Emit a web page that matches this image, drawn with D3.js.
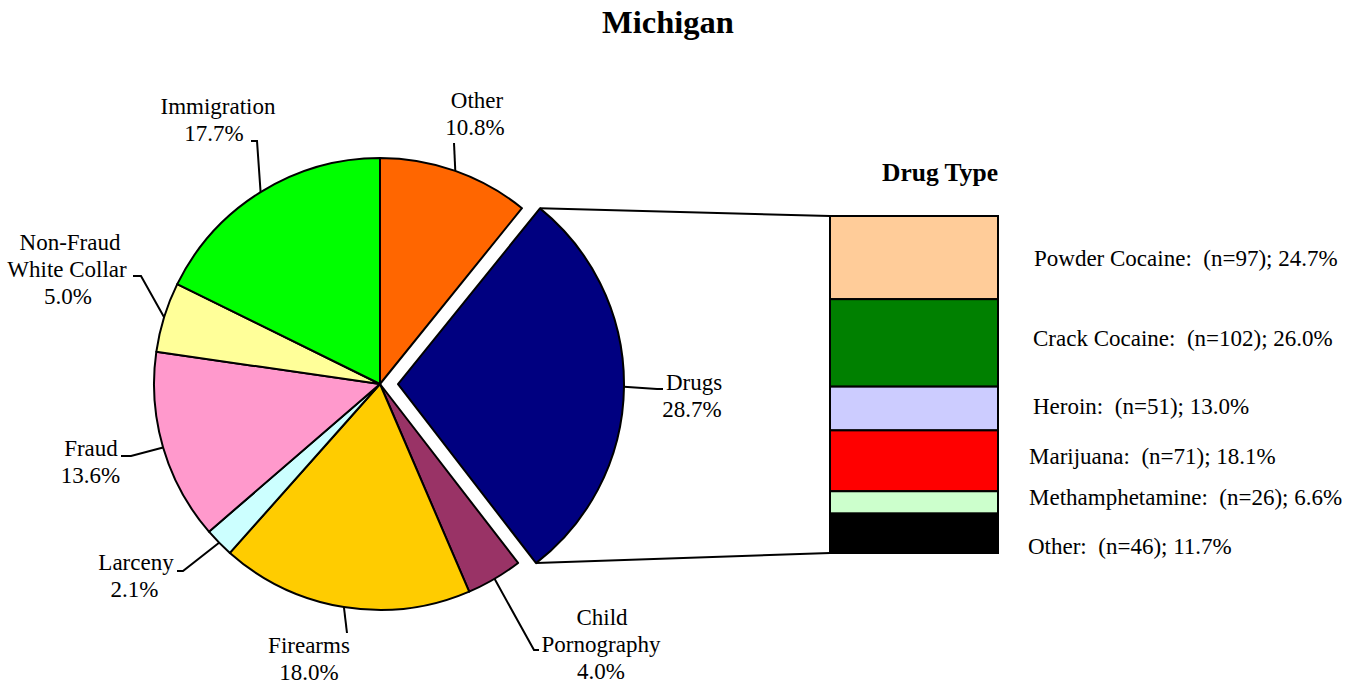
<!DOCTYPE html>
<html>
<head>
<meta charset="utf-8">
<script src="https://cdn.jsdelivr.net/npm/d3@7"></script>
<style>
  body { margin: 0; background: #fff; }
  svg text { font-family: "Times New Roman", "Liberation Serif", "DejaVu Serif", serif; fill: #000; white-space: pre; }
</style>
</head>
<body>
<div id="chart"></div>
<script>
// Offense categories, clockwise from 12 o'clock
const offenses = ["Other", "Drugs", "Child Pornography", "Firearms", "Larceny", "Fraud", "Non-Fraud White Collar", "Immigration"];
const offensePct = [10.8, 28.7, 4.0, 18.0, 2.1, 13.6, 5.0, 17.7];
const offenseColors = ["#FF6600", "#000080", "#993366", "#FFCC00", "#CCFFFF", "#FF99CC", "#FFFF99", "#00FF00"];

// Drug type breakdown, top to bottom
const drugTypes = ["Powder Cocaine", "Crack Cocaine", "Heroin", "Marijuana", "Methamphetamine", "Other"];
const drugCounts = [97, 102, 51, 71, 26, 46];
const drugPct = [24.7, 26.0, 13.0, 18.1, 6.6, 11.7];
const drugColors = ["#FFCC99", "#008000", "#CCCCFF", "#FF0000", "#CCFFCC", "#000000"];

const width = 1364, height = 684;
const cx = 380, cy = 384, r = 226;
const explode = 18;
const fontSize = 23, lineH = 27;

const svg = d3.select("#chart").append("svg")
  .attr("width", width)
  .attr("height", height);

svg.append("text")
  .attr("x", 668).attr("y", 33)
  .attr("text-anchor", "middle")
  .style("font-size", "32.5px").style("font-weight", "bold")
  .text("Michigan");

const pie = d3.pie().sort(null).value(d => d.v).startAngle(0).endAngle(2 * Math.PI);
const arcs = pie(offenses.map((n, i) => ({ n, v: offensePct[i], c: offenseColors[i] })));
const arc = d3.arc().innerRadius(0).outerRadius(r);

// offset for the exploded slice
function off(d) {
  if (d.data.n !== "Drugs") return [0, 0];
  const a = (d.startAngle + d.endAngle) / 2;
  return [explode * Math.sin(a), -explode * Math.cos(a)];
}

const g = svg.append("g").attr("transform", `translate(${cx},${cy})`);

g.selectAll("path.slice")
  .data(arcs)
  .enter().append("path")
  .attr("class", "slice")
  .attr("d", arc)
  .attr("transform", d => `translate(${off(d)})`)
  .attr("fill", d => d.data.c)
  .attr("stroke", "#000")
  .attr("stroke-width", 2)
  .attr("stroke-linejoin", "round");

// label layout: lines as [text, centre x], first baseline, leader elbows (page coords)
const labelLayout = {
  "Other": { lines: [["Other", 477], ["10.8%", 475]], y: 108, elbow: [[454, 143]] },
  "Drugs": { lines: [["Drugs", 694], ["28.7%", 692]], y: 390, elbow: [[657, 389], [663, 389]] },
  "Child Pornography": { lines: [["Child", 602], ["Pornography", 601], ["4.0%", 601]], y: 625, elbow: [[534, 650], [539, 650]] },
  "Firearms": { lines: [["Firearms", 309], ["18.0%", 309]], y: 653, elbow: [[347, 633]] },
  "Larceny": { lines: [["Larceny", 136], ["2.1%", 134.5]], y: 570, elbow: [[183, 571], [177, 571]] },
  "Fraud": { lines: [["Fraud", 91], ["13.6%", 90.5]], y: 456, elbow: [[131, 456], [121, 456]] },
  "Non-Fraud White Collar": { lines: [["Non-Fraud", 70], ["White Collar", 67], ["5.0%", 68]], y: 250, elbow: [[141, 276], [133, 276]] },
  "Immigration": { lines: [["Immigration", 218], ["17.7%", 214]], y: 114, elbow: [[257, 141], [251, 141]] }
};

arcs.forEach(d => {
  const L = labelLayout[d.data.n];
  const a = (d.startAngle + d.endAngle) / 2;
  const o = off(d);
  const p0 = [cx + o[0] + r * Math.sin(a), cy + o[1] - r * Math.cos(a)];
  svg.append("path")
    .attr("d", d3.line()([p0].concat(L.elbow)))
    .attr("fill", "none")
    .attr("stroke", "#000")
    .attr("stroke-width", 2);
  const t = svg.append("text")
    .attr("text-anchor", "middle")
    .style("font-size", fontSize + "px");
  L.lines.forEach((ln, i) => {
    t.append("tspan").attr("x", ln[1]).attr("y", L.y + i * lineH).text(ln[0]);
  });
});

// Connector lines from exploded slice to the bar
const drugsArc = arcs.find(d => d.data.n === "Drugs");
const dOff = off(drugsArc);
const topCorner = [cx + dOff[0] + r * Math.sin(drugsArc.startAngle), cy + dOff[1] - r * Math.cos(drugsArc.startAngle)];
const botCorner = [cx + dOff[0] + r * Math.sin(drugsArc.endAngle), cy + dOff[1] - r * Math.cos(drugsArc.endAngle)];

const barX = 830, barW = 168, barTop = 216, barBottom = 553;
const total = d3.sum(drugCounts);
const y = d3.scaleLinear().domain([0, total]).range([barTop, barBottom]);

const stack = [];
let acc = 0;
drugTypes.forEach((t, i) => {
  stack.push({ t, n: drugCounts[i], p: drugPct[i], c: drugColors[i], y0: acc, y1: acc + drugCounts[i] });
  acc += drugCounts[i];
});

svg.append("line")
  .attr("x1", topCorner[0]).attr("y1", topCorner[1])
  .attr("x2", barX).attr("y2", y(0))
  .attr("stroke", "#000").attr("stroke-width", 2);
svg.append("line")
  .attr("x1", botCorner[0]).attr("y1", botCorner[1])
  .attr("x2", barX).attr("y2", y(total))
  .attr("stroke", "#000").attr("stroke-width", 2);

svg.selectAll("rect.seg")
  .data(stack)
  .enter().append("rect")
  .attr("class", "seg")
  .attr("x", barX)
  .attr("y", d => y(d.y0))
  .attr("width", barW)
  .attr("height", d => y(d.y1) - y(d.y0))
  .attr("fill", d => d.c)
  .attr("stroke", "#000")
  .attr("stroke-width", 2);

svg.append("text")
  .attr("x", 940).attr("y", 181)
  .attr("text-anchor", "middle")
  .style("font-size", "25.5px").style("font-weight", "bold")
  .text("Drug Type");

// label offsets (relative to the top of each segment) and left edges
const labelDy = [50, 47, 27, 34, 14, 40];
const labelX = [1034, 1033, 1033, 1029, 1029, 1028];
svg.selectAll("text.drug")
  .data(stack)
  .enter().append("text")
  .attr("class", "drug")
  .attr("x", (d, i) => labelX[i])
  .attr("y", (d, i) => y(d.y0) + labelDy[i])
  .style("font-size", fontSize + "px")
  .text(d => `${d.t}:  (n=${d.n}); ${d.p.toFixed(1)}%`);
</script>
</body>
</html>
